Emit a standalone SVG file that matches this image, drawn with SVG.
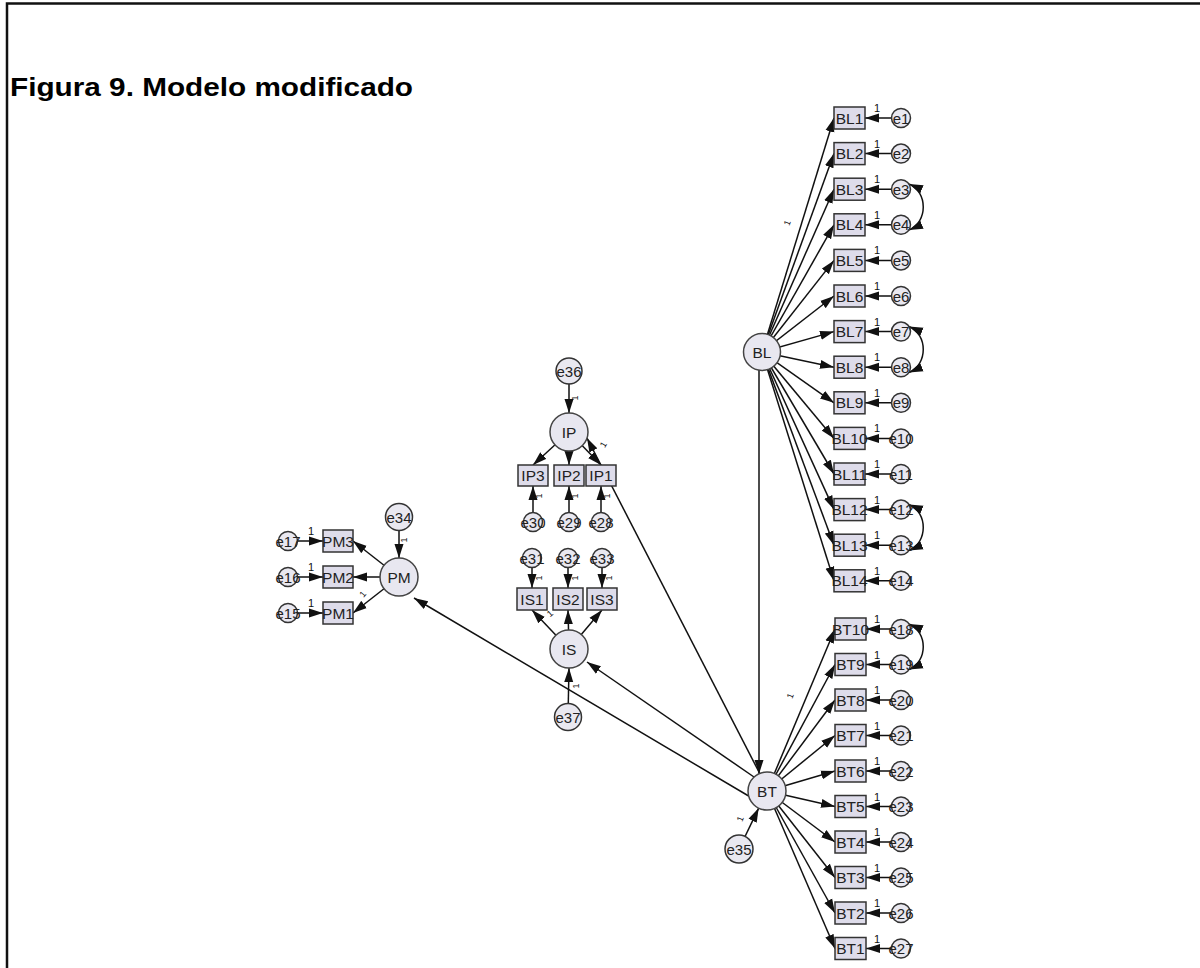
<svg xmlns="http://www.w3.org/2000/svg" width="1200" height="968" viewBox="0 0 1200 968">
  <defs>
    <marker id="ah" markerUnits="userSpaceOnUse" markerWidth="15" markerHeight="10" refX="14" refY="5" orient="auto">
      <path d="M0,0.5 L14,5 L0,9.5 z" fill="#111"/>
    </marker>
    <marker id="ah2" markerUnits="userSpaceOnUse" markerWidth="15" markerHeight="10" refX="14" refY="5" orient="auto-start-reverse">
      <path d="M0,0.5 L14,5 L0,9.5 z" fill="#111"/>
    </marker>
    <style>
      .frame { stroke: #111; stroke-width: 2.5; fill: none; }
      .title { font-family: "Liberation Sans", Arial, sans-serif; font-weight: bold; font-size: 26px; fill: #000; }
      .c { stroke: #111; stroke-width: 1.5; fill: none; marker-end: url(#ah); }
      .cov { stroke: #111; stroke-width: 1.5; fill: none; marker-start: url(#ah2); marker-end: url(#ah2); }
      .box { fill: #dedcea; stroke: #333; stroke-width: 1.5; }
      .lat { fill: #e8e7f0; stroke: #444; stroke-width: 1.5; }
      .err { fill: #e9e8f0; stroke: #333; stroke-width: 1.5; }
      .t { font-family: "Liberation Sans", Arial, sans-serif; font-size: 15.5px; fill: #222; text-anchor: middle; }
      .te { font-family: "Liberation Sans", Arial, sans-serif; font-size: 15px; fill: #222; text-anchor: middle; }
      .one { font-family: "Liberation Sans", Arial, sans-serif; font-size: 11px; fill: #111; text-anchor: middle; }
      .onev { font-family: "Liberation Sans", Arial, sans-serif; font-size: 9px; fill: #111; text-anchor: middle; }
    </style>
  </defs>

  <rect width="1200" height="968" fill="#ffffff"/>
  <!-- page frame: top and left rules -->
  <path class="frame" d="M7,968 L7,3.5 L1200,3.5"/>
  <text class="title" x="10" y="96" textLength="403" lengthAdjust="spacingAndGlyphs">Figura 9. Modelo modificado</text>

  <!-- connectors -->
  <g id="connectors">
    <!-- BL loadings -->
    <line class="c" x1="762" y1="352" x2="834" y2="118"/>
    <line class="c" x1="762" y1="352" x2="834" y2="153.6"/>
    <line class="c" x1="762" y1="352" x2="834" y2="189.2"/>
    <line class="c" x1="762" y1="352" x2="834" y2="224.8"/>
    <line class="c" x1="762" y1="352" x2="834" y2="260.4"/>
    <line class="c" x1="762" y1="352" x2="834" y2="296"/>
    <line class="c" x1="762" y1="352" x2="834" y2="331.6"/>
    <line class="c" x1="762" y1="352" x2="834" y2="367.2"/>
    <line class="c" x1="762" y1="352" x2="834" y2="402.8"/>
    <line class="c" x1="762" y1="352" x2="834" y2="438.4"/>
    <line class="c" x1="762" y1="352" x2="834" y2="474"/>
    <line class="c" x1="762" y1="352" x2="834" y2="509.6"/>
    <line class="c" x1="762" y1="352" x2="834" y2="545.2"/>
    <line class="c" x1="762" y1="352" x2="834" y2="580.8"/>
    <!-- BL residuals -->
    <line class="c" x1="901" y1="118" x2="865" y2="118"/>
    <line class="c" x1="901" y1="153.6" x2="865" y2="153.6"/>
    <line class="c" x1="901" y1="189.2" x2="865" y2="189.2"/>
    <line class="c" x1="901" y1="224.8" x2="865" y2="224.8"/>
    <line class="c" x1="901" y1="260.4" x2="865" y2="260.4"/>
    <line class="c" x1="901" y1="296" x2="865" y2="296"/>
    <line class="c" x1="901" y1="331.6" x2="865" y2="331.6"/>
    <line class="c" x1="901" y1="367.2" x2="865" y2="367.2"/>
    <line class="c" x1="901" y1="402.8" x2="865" y2="402.8"/>
    <line class="c" x1="901" y1="438.4" x2="865" y2="438.4"/>
    <line class="c" x1="901" y1="474" x2="865" y2="474"/>
    <line class="c" x1="901" y1="509.6" x2="865" y2="509.6"/>
    <line class="c" x1="901" y1="545.2" x2="865" y2="545.2"/>
    <line class="c" x1="901" y1="580.8" x2="865" y2="580.8"/>
    <!-- BT loadings -->
    <line class="c" x1="767" y1="791" x2="835" y2="629"/>
    <line class="c" x1="767" y1="791" x2="835" y2="664.5"/>
    <line class="c" x1="767" y1="791" x2="835" y2="700"/>
    <line class="c" x1="767" y1="791" x2="835" y2="735.5"/>
    <line class="c" x1="767" y1="791" x2="835" y2="771"/>
    <line class="c" x1="767" y1="791" x2="835" y2="806.5"/>
    <line class="c" x1="767" y1="791" x2="835" y2="842"/>
    <line class="c" x1="767" y1="791" x2="835" y2="877.5"/>
    <line class="c" x1="767" y1="791" x2="835" y2="913"/>
    <line class="c" x1="767" y1="791" x2="835" y2="948.5"/>
    <!-- BT residuals -->
    <line class="c" x1="901" y1="629" x2="866" y2="629"/>
    <line class="c" x1="901" y1="664.5" x2="866" y2="664.5"/>
    <line class="c" x1="901" y1="700" x2="866" y2="700"/>
    <line class="c" x1="901" y1="735.5" x2="866" y2="735.5"/>
    <line class="c" x1="901" y1="771" x2="866" y2="771"/>
    <line class="c" x1="901" y1="806.5" x2="866" y2="806.5"/>
    <line class="c" x1="901" y1="842" x2="866" y2="842"/>
    <line class="c" x1="901" y1="877.5" x2="866" y2="877.5"/>
    <line class="c" x1="901" y1="913" x2="866" y2="913"/>
    <line class="c" x1="901" y1="948.5" x2="866" y2="948.5"/>
    <!-- residual covariances -->
    <path class="cov" d="M909,184 C928,192 928,222 909,230"/>
    <path class="cov" d="M909,326.5 C928,334.5 928,364.5 909,372.5"/>
    <path class="cov" d="M909,504.5 C928,512.5 928,542.5 909,550.5"/>
    <path class="cov" d="M909,624 C928,632 928,661.5 909,669.5"/>
    <!-- PM block -->
    <line class="c" x1="399" y1="577" x2="353" y2="541"/>
    <line class="c" x1="399" y1="577" x2="353" y2="577"/>
    <line class="c" x1="399" y1="577" x2="353" y2="613"/>
    <line class="c" x1="288" y1="541" x2="323" y2="541"/>
    <line class="c" x1="288" y1="577" x2="323" y2="577"/>
    <line class="c" x1="288" y1="613" x2="323" y2="613"/>
    <line class="c" x1="399" y1="517" x2="399" y2="558"/>
    <!-- IP block -->
    <line class="c" x1="569" y1="432" x2="533" y2="465"/>
    <line class="c" x1="569" y1="432" x2="569" y2="465"/>
    <line class="c" x1="569" y1="432" x2="601" y2="465"/>
    <line class="c" x1="533" y1="522" x2="533" y2="486"/>
    <line class="c" x1="569" y1="522" x2="569" y2="486"/>
    <line class="c" x1="601" y1="522" x2="601" y2="486"/>
    <line class="c" x1="569" y1="371" x2="569" y2="413"/>
    <!-- IS block -->
    <line class="c" x1="569" y1="649" x2="532" y2="610"/>
    <line class="c" x1="569" y1="649" x2="568" y2="610"/>
    <line class="c" x1="569" y1="649" x2="602" y2="610"/>
    <line class="c" x1="532" y1="558" x2="532" y2="588"/>
    <line class="c" x1="568" y1="558" x2="568" y2="588"/>
    <line class="c" x1="602" y1="558" x2="602" y2="588"/>
    <line class="c" x1="568" y1="717" x2="569" y2="668"/>
    <!-- structural paths -->
    <line class="c" x1="759" y1="352" x2="759" y2="774"/>
    <line class="c" x1="760" y1="774" x2="587" y2="438"/>
    <line class="c" x1="754" y1="777" x2="587" y2="662"/>
    <line class="c" x1="752" y1="798" x2="414" y2="598"/>
    <line class="c" x1="739" y1="849" x2="758.7" y2="808.1"/>
  </g>

  <!-- fixed parameter labels -->
  <g id="labels">
    <text class="one" x="877" y="112">1</text>
    <text class="one" x="877" y="147.6">1</text>
    <text class="one" x="877" y="183.2">1</text>
    <text class="one" x="877" y="218.8">1</text>
    <text class="one" x="877" y="254.4">1</text>
    <text class="one" x="877" y="290">1</text>
    <text class="one" x="877" y="325.6">1</text>
    <text class="one" x="877" y="361.2">1</text>
    <text class="one" x="877" y="396.8">1</text>
    <text class="one" x="877" y="432.4">1</text>
    <text class="one" x="877" y="468">1</text>
    <text class="one" x="877" y="503.6">1</text>
    <text class="one" x="877" y="539.2">1</text>
    <text class="one" x="877" y="574.8">1</text>
    <text class="one" x="877" y="623">1</text>
    <text class="one" x="877" y="658.5">1</text>
    <text class="one" x="877" y="694">1</text>
    <text class="one" x="877" y="729.5">1</text>
    <text class="one" x="877" y="765">1</text>
    <text class="one" x="877" y="800.5">1</text>
    <text class="one" x="877" y="836">1</text>
    <text class="one" x="877" y="871.5">1</text>
    <text class="one" x="877" y="907">1</text>
    <text class="one" x="877" y="942.5">1</text>
    <text class="one" x="311" y="535">1</text>
    <text class="one" x="311" y="571">1</text>
    <text class="one" x="311" y="607">1</text>
    <text class="onev" transform="translate(790,224) rotate(-70)">1</text>
    <text class="onev" transform="translate(793,697) rotate(-70)">1</text>
    <text class="onev" transform="translate(365,596) rotate(-50)">1</text>
    <text class="onev" transform="translate(606,446) rotate(-60)">1</text>
    <text class="onev" transform="translate(552,616) rotate(-40)">1</text>
    <text class="onev" transform="translate(407,540) rotate(-90)">1</text>
    <text class="onev" transform="translate(578,398) rotate(-90)">1</text>
    <text class="onev" transform="translate(542,496) rotate(-90)">1</text>
    <text class="onev" transform="translate(578,496) rotate(-90)">1</text>
    <text class="onev" transform="translate(610,496) rotate(-90)">1</text>
    <text class="onev" transform="translate(542,578) rotate(-90)">1</text>
    <text class="onev" transform="translate(578,578) rotate(-90)">1</text>
    <text class="onev" transform="translate(612,578) rotate(-90)">1</text>
    <text class="onev" transform="translate(579,686) rotate(-90)">1</text>
    <text class="onev" transform="translate(743,820) rotate(-70)">1</text>
  </g>

  <!-- latent variables -->
  <g id="BL"><circle class="lat" cx="762" cy="352" r="18.5"/><text class="t" x="762" y="357.5">BL</text></g>
  <g id="BT"><circle class="lat" cx="767" cy="791" r="19"/><text class="t" x="767" y="796.5">BT</text></g>
  <g id="IP"><circle class="lat" cx="569" cy="432" r="19"/><text class="t" x="569" y="437.5">IP</text></g>
  <g id="IS"><circle class="lat" cx="569" cy="649" r="19"/><text class="t" x="569" y="654.5">IS</text></g>
  <g id="PM"><circle class="lat" cx="399" cy="577" r="19"/><text class="t" x="399" y="582.5">PM</text></g>

  <!-- BL indicators -->
  <g id="BL1"><rect class="box" x="834" y="107" width="31" height="22"/><text class="t" x="849.5" y="123.5">BL1</text></g>
  <g id="BL2"><rect class="box" x="834" y="142.6" width="31" height="22"/><text class="t" x="849.5" y="159.1">BL2</text></g>
  <g id="BL3"><rect class="box" x="834" y="178.2" width="31" height="22"/><text class="t" x="849.5" y="194.7">BL3</text></g>
  <g id="BL4"><rect class="box" x="834" y="213.8" width="31" height="22"/><text class="t" x="849.5" y="230.3">BL4</text></g>
  <g id="BL5"><rect class="box" x="834" y="249.4" width="31" height="22"/><text class="t" x="849.5" y="265.9">BL5</text></g>
  <g id="BL6"><rect class="box" x="834" y="285" width="31" height="22"/><text class="t" x="849.5" y="301.5">BL6</text></g>
  <g id="BL7"><rect class="box" x="834" y="320.6" width="31" height="22"/><text class="t" x="849.5" y="337.1">BL7</text></g>
  <g id="BL8"><rect class="box" x="834" y="356.2" width="31" height="22"/><text class="t" x="849.5" y="372.7">BL8</text></g>
  <g id="BL9"><rect class="box" x="834" y="391.8" width="31" height="22"/><text class="t" x="849.5" y="408.3">BL9</text></g>
  <g id="BL10"><rect class="box" x="834" y="427.4" width="31" height="22"/><text class="t" x="849.5" y="443.9">BL10</text></g>
  <g id="BL11"><rect class="box" x="834" y="463" width="31" height="22"/><text class="t" x="849.5" y="479.5">BL11</text></g>
  <g id="BL12"><rect class="box" x="834" y="498.6" width="31" height="22"/><text class="t" x="849.5" y="515.1">BL12</text></g>
  <g id="BL13"><rect class="box" x="834" y="534.2" width="31" height="22"/><text class="t" x="849.5" y="550.7">BL13</text></g>
  <g id="BL14"><rect class="box" x="834" y="569.8" width="31" height="22"/><text class="t" x="849.5" y="586.3">BL14</text></g>

  <!-- BT indicators -->
  <g id="BT10"><rect class="box" x="835" y="618" width="31" height="22"/><text class="t" x="850.5" y="634.5">BT10</text></g>
  <g id="BT9"><rect class="box" x="835" y="653.5" width="31" height="22"/><text class="t" x="850.5" y="670">BT9</text></g>
  <g id="BT8"><rect class="box" x="835" y="689" width="31" height="22"/><text class="t" x="850.5" y="705.5">BT8</text></g>
  <g id="BT7"><rect class="box" x="835" y="724.5" width="31" height="22"/><text class="t" x="850.5" y="741">BT7</text></g>
  <g id="BT6"><rect class="box" x="835" y="760" width="31" height="22"/><text class="t" x="850.5" y="776.5">BT6</text></g>
  <g id="BT5"><rect class="box" x="835" y="795.5" width="31" height="22"/><text class="t" x="850.5" y="812">BT5</text></g>
  <g id="BT4"><rect class="box" x="835" y="831" width="31" height="22"/><text class="t" x="850.5" y="847.5">BT4</text></g>
  <g id="BT3"><rect class="box" x="835" y="866.5" width="31" height="22"/><text class="t" x="850.5" y="883">BT3</text></g>
  <g id="BT2"><rect class="box" x="835" y="902" width="31" height="22"/><text class="t" x="850.5" y="918.5">BT2</text></g>
  <g id="BT1"><rect class="box" x="835" y="937.5" width="31" height="22"/><text class="t" x="850.5" y="954">BT1</text></g>

  <!-- IP / IS / PM indicators -->
  <g id="IP3"><rect class="box" x="518" y="465" width="30" height="21"/><text class="t" x="533" y="481">IP3</text></g>
  <g id="IP2"><rect class="box" x="554" y="465" width="30" height="21"/><text class="t" x="569" y="481">IP2</text></g>
  <g id="IP1"><rect class="box" x="586" y="465" width="30" height="21"/><text class="t" x="601" y="481">IP1</text></g>
  <g id="IS1"><rect class="box" x="517" y="588" width="30" height="22"/><text class="t" x="532" y="604.5">IS1</text></g>
  <g id="IS2"><rect class="box" x="553" y="588" width="30" height="22"/><text class="t" x="568" y="604.5">IS2</text></g>
  <g id="IS3"><rect class="box" x="587" y="588" width="30" height="22"/><text class="t" x="602" y="604.5">IS3</text></g>
  <g id="PM3"><rect class="box" x="323" y="530" width="30" height="22"/><text class="t" x="338" y="546.5">PM3</text></g>
  <g id="PM2"><rect class="box" x="323" y="566" width="30" height="22"/><text class="t" x="338" y="582.5">PM2</text></g>
  <g id="PM1"><rect class="box" x="323" y="602" width="30" height="22"/><text class="t" x="338" y="618.5">PM1</text></g>

  <!-- residual terms -->
  <g id="e1"><circle class="err" cx="901" cy="118" r="9.5"/><text class="te" x="901" y="123.5">e1</text></g>
  <g id="e2"><circle class="err" cx="901" cy="153.6" r="9.5"/><text class="te" x="901" y="159.1">e2</text></g>
  <g id="e3"><circle class="err" cx="901" cy="189.2" r="9.5"/><text class="te" x="901" y="194.7">e3</text></g>
  <g id="e4"><circle class="err" cx="901" cy="224.8" r="9.5"/><text class="te" x="901" y="230.3">e4</text></g>
  <g id="e5"><circle class="err" cx="901" cy="260.4" r="9.5"/><text class="te" x="901" y="265.9">e5</text></g>
  <g id="e6"><circle class="err" cx="901" cy="296" r="9.5"/><text class="te" x="901" y="301.5">e6</text></g>
  <g id="e7"><circle class="err" cx="901" cy="331.6" r="9.5"/><text class="te" x="901" y="337.1">e7</text></g>
  <g id="e8"><circle class="err" cx="901" cy="367.2" r="9.5"/><text class="te" x="901" y="372.7">e8</text></g>
  <g id="e9"><circle class="err" cx="901" cy="402.8" r="9.5"/><text class="te" x="901" y="408.3">e9</text></g>
  <g id="e10"><circle class="err" cx="901" cy="438.4" r="9.5"/><text class="te" x="901" y="443.9">e10</text></g>
  <g id="e11"><circle class="err" cx="901" cy="474" r="9.5"/><text class="te" x="901" y="479.5">e11</text></g>
  <g id="e12"><circle class="err" cx="901" cy="509.6" r="9.5"/><text class="te" x="901" y="515.1">e12</text></g>
  <g id="e13"><circle class="err" cx="901" cy="545.2" r="9.5"/><text class="te" x="901" y="550.7">e13</text></g>
  <g id="e14"><circle class="err" cx="901" cy="580.8" r="9.5"/><text class="te" x="901" y="586.3">e14</text></g>
  <g id="e18"><circle class="err" cx="901" cy="629" r="9.5"/><text class="te" x="901" y="634.5">e18</text></g>
  <g id="e19"><circle class="err" cx="901" cy="664.5" r="9.5"/><text class="te" x="901" y="670">e19</text></g>
  <g id="e20"><circle class="err" cx="901" cy="700" r="9.5"/><text class="te" x="901" y="705.5">e20</text></g>
  <g id="e21"><circle class="err" cx="901" cy="735.5" r="9.5"/><text class="te" x="901" y="741">e21</text></g>
  <g id="e22"><circle class="err" cx="901" cy="771" r="9.5"/><text class="te" x="901" y="776.5">e22</text></g>
  <g id="e23"><circle class="err" cx="901" cy="806.5" r="9.5"/><text class="te" x="901" y="812">e23</text></g>
  <g id="e24"><circle class="err" cx="901" cy="842" r="9.5"/><text class="te" x="901" y="847.5">e24</text></g>
  <g id="e25"><circle class="err" cx="901" cy="877.5" r="9.5"/><text class="te" x="901" y="883">e25</text></g>
  <g id="e26"><circle class="err" cx="901" cy="913" r="9.5"/><text class="te" x="901" y="918.5">e26</text></g>
  <g id="e27"><circle class="err" cx="901" cy="948.5" r="9.5"/><text class="te" x="901" y="954">e27</text></g>
  <g id="e17"><circle class="err" cx="288" cy="541" r="9.5"/><text class="te" x="288" y="546.5">e17</text></g>
  <g id="e16"><circle class="err" cx="288" cy="577" r="9.5"/><text class="te" x="288" y="582.5">e16</text></g>
  <g id="e15"><circle class="err" cx="288" cy="613" r="9.5"/><text class="te" x="288" y="618.5">e15</text></g>
  <g id="e30"><circle class="err" cx="533" cy="522" r="9.5"/><text class="te" x="533" y="527.5">e30</text></g>
  <g id="e29"><circle class="err" cx="569" cy="522" r="9.5"/><text class="te" x="569" y="527.5">e29</text></g>
  <g id="e28"><circle class="err" cx="601" cy="522" r="9.5"/><text class="te" x="601" y="527.5">e28</text></g>
  <g id="e31"><circle class="err" cx="532" cy="558" r="9.5"/><text class="te" x="532" y="563.5">e31</text></g>
  <g id="e32"><circle class="err" cx="568" cy="558" r="9.5"/><text class="te" x="568" y="563.5">e32</text></g>
  <g id="e33"><circle class="err" cx="602" cy="558" r="9.5"/><text class="te" x="602" y="563.5">e33</text></g>
  <g id="e34"><circle class="err" cx="399" cy="517" r="13.5"/><text class="te" x="399" y="522.5">e34</text></g>
  <g id="e35"><circle class="err" cx="739" cy="849" r="14"/><text class="te" x="739" y="854.5">e35</text></g>
  <g id="e36"><circle class="err" cx="569" cy="371" r="13"/><text class="te" x="569" y="376.5">e36</text></g>
  <g id="e37"><circle class="err" cx="568" cy="717" r="13.5"/><text class="te" x="568" y="722.5">e37</text></g>
</svg>
